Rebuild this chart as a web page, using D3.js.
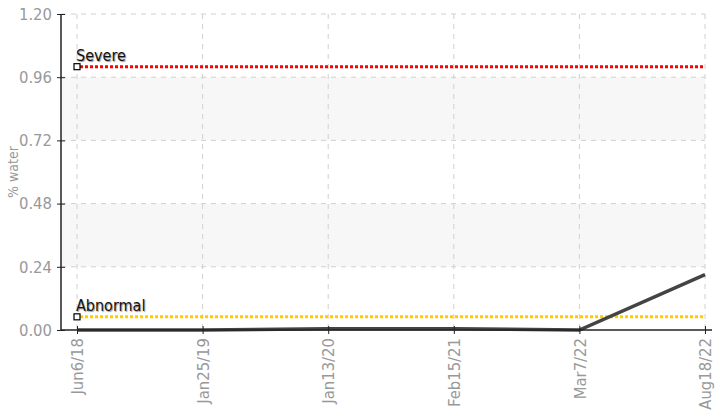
<!DOCTYPE html>
<html>
<head>
<meta charset="utf-8">
<script src="https://cdn.jsdelivr.net/npm/d3@7"></script>
<style>
  body { margin: 0; background: #fff; }
  svg text { font-family: "DejaVu Sans Condensed", "Liberation Sans Narrow", sans-serif; }
</style>
</head>
<body>
<svg id="chart" width="715" height="413"></svg>
<script>
// data
const dates = ['Jun6/18', 'Jan25/19', 'Jan13/20', 'Feb15/21', 'Mar7/22', 'Aug18/22'];
const waterValues = [0, 0, 0.005, 0.005, 0, 0.21];
const yTicks = [0, 0.24, 0.48, 0.72, 0.96, 1.2];
const thresholdNames = ['Severe', 'Abnormal'];
const thresholdValues = [1.0, 0.05];
const thresholdColors = ['#ff0000', '#ffcc00'];

const svg = d3.select('#chart');
const axisLeftX = 61;
const axisRightX = 712;
const tickFont = 16.5;

const x = d3.scalePoint().domain(dates).range([77, 705]);
const y = d3.scaleLinear().domain([0, 1.2]).range([330, 14]);

// alternating bands
const bands = d3.pairs(yTicks).filter((_, i) => i % 2 === 1);
svg.append('g').selectAll('rect').data(bands).enter().append('rect')
  .attr('x', axisLeftX)
  .attr('width', x.range()[1] - axisLeftX)
  .attr('y', d => y(d[1]))
  .attr('height', d => y(d[0]) - y(d[1]))
  .attr('fill', '#f7f7f7');

// grid
const grid = svg.append('g').attr('stroke', '#d0d0d0').attr('stroke-dasharray', '5,5');
grid.selectAll('line.h').data(yTicks.slice(1)).enter().append('line')
  .attr('x1', axisLeftX).attr('x2', x.range()[1])
  .attr('y1', d => y(d)).attr('y2', d => y(d));
grid.selectAll('line.v').data(dates).enter().append('line')
  .attr('x1', d => x(d)).attr('x2', d => x(d))
  .attr('y1', y(1.2)).attr('y2', y(0));

// thresholds
thresholdValues.forEach((v, i) => {
  svg.append('line')
    .attr('x1', x(dates[0]) + 3).attr('x2', x.range()[1])
    .attr('y1', y(v)).attr('y2', y(v))
    .attr('stroke', thresholdColors[i])
    .attr('stroke-width', 3)
    .attr('stroke-dasharray', '3,2');
});

// data line
svg.append('path')
  .datum(waterValues)
  .attr('fill', 'none')
  .attr('stroke', '#444')
  .attr('stroke-width', 3.5)
  .attr('d', d3.line().x((d, i) => x(dates[i])).y(d => y(d)));

// threshold markers + labels
thresholdValues.forEach((v, i) => {
  svg.append('rect')
    .attr('x', x(dates[0]) - 3).attr('y', y(v) - 3)
    .attr('width', 6).attr('height', 6)
    .attr('fill', '#fff').attr('stroke', '#000').attr('stroke-width', 1.2);
  svg.append('text')
    .attr('x', x(dates[0]) - 1).attr('y', y(v) - 6)
    .attr('font-size', 16)
    .attr('fill', '#111')
    .style('text-shadow', '1px 1px 1px #999')
    .text(thresholdNames[i]);
});

// y axis
const yAxis = svg.append('g')
  .attr('transform', `translate(${axisLeftX},0)`)
  .call(d3.axisLeft(y).tickValues(yTicks).tickFormat(d3.format('.2f')).tickSize(4).tickPadding(5));
yAxis.select('.domain').attr('stroke', '#222').attr('stroke-width', 1.5).attr('d', `M0,${y(1.2)}V${y(0)}`);
yAxis.selectAll('.tick line').attr('stroke', '#222').attr('x2', 4).attr('x1', -4);
yAxis.selectAll('.tick text').attr('fill', '#999').attr('font-size', tickFont)
  .attr('font-family', '"DejaVu Sans Condensed", "Liberation Sans Narrow", sans-serif');

// x axis
const xAxis = svg.append('g')
  .attr('transform', `translate(0,${y(0)})`)
  .call(d3.axisBottom(x).tickSize(4).tickPadding(6));
xAxis.select('.domain').attr('stroke', '#222').attr('stroke-width', 1.5).attr('d', `M${axisLeftX},0H${axisRightX}`);
xAxis.selectAll('.tick line').attr('stroke', '#222').attr('y1', -4).attr('y2', 4);
xAxis.selectAll('.tick text')
  .attr('fill', '#999').attr('font-size', tickFont)
  .attr('font-family', '"DejaVu Sans Condensed", "Liberation Sans Narrow", sans-serif')
  .attr('text-anchor', 'end')
  .attr('transform', 'rotate(-90)')
  .attr('x', -8).attr('y', 0).attr('dy', '0.35em');

// y label
svg.append('text')
  .attr('transform', `translate(18,${(y(0) + y(1.2)) / 2}) rotate(-90)`)
  .attr('text-anchor', 'middle')
  .attr('font-size', 14)
  .attr('fill', '#999')
  .text('% water');
</script>
</body>
</html>
